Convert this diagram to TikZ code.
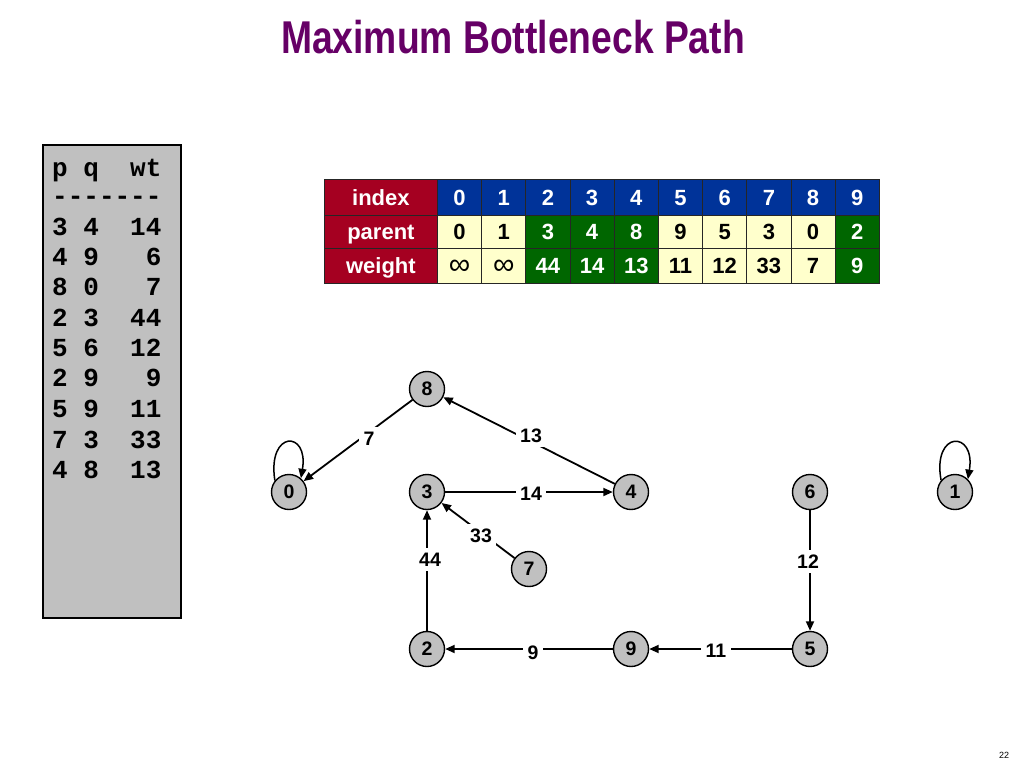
\documentclass[tikz,border=0pt]{standalone}
\usepackage{fontspec}
\setmainfont{Liberation Sans}
\setmonofont{Liberation Mono}
\usetikzlibrary{arrows.meta}
\definecolor{titlepurple}{HTML}{660066}
\definecolor{hdrred}{HTML}{A50021}
\definecolor{hdrblue}{HTML}{003399}
\definecolor{cellgreen}{HTML}{006600}
\definecolor{cellyellow}{HTML}{FFFFCC}
\definecolor{panelgray}{HTML}{C0C0C0}
\newcommand{\infsym}{{\mdseries\fontsize{30}{30}\selectfont\raisebox{-1pt}{∞}}}
\begin{document}
\begin{tikzpicture}[x=1pt,y=-1pt,
  cell/.style={draw=black!85, line width=0.8pt, minimum width=44.2pt, inner sep=0pt,
    anchor=north west, font=\bfseries\fontsize{22}{22}\selectfont,
    text height=15.7pt, text depth=0pt},
  hdr/.style={cell, fill=hdrred, text=white, minimum width=113pt},
  vtx/.style={circle, draw=black, line width=1.4pt, fill=panelgray, minimum size=35pt,
    inner sep=0pt, font=\bfseries\fontsize{19.5}{19.5}\selectfont},
  edge/.style={line width=1.8pt, -{Triangle[length=9.5pt,width=8pt]}},
  elbl/.style={fill=white, inner sep=4.5pt, font=\bfseries\fontsize{19.5}{19.5}\selectfont,
    text height=14pt, text depth=0pt},
  code/.style={anchor=mid west, inner sep=0pt, font=\ttfamily\bfseries\fontsize{26}{26}\selectfont}
]
\useasboundingbox (0,0) rectangle (1024,768);

% title
\node[anchor=base, text=titlepurple, font=\bfseries\fontsize{46}{46}\selectfont, inner sep=0pt]
  (title) at (513,53) {\scalebox{0.81}[1]{Maximum Bottleneck Path}};

% left panel
\draw[line width=1.5pt, fill=panelgray] (43,145) rectangle (181,618);
\node[code] (c0) at (52,174) {p\ q\ \ wt};
\node[code] (c1) at (52,202) {-\kern0pt-\kern0pt-\kern0pt-\kern0pt-\kern0pt-\kern0pt-};
\node[code] (c2) at (52,233) {3\ 4\ \ 14};
\node[code] (c3) at (52,263) {4\ 9\ \ \ 6};
\node[code] (c4) at (52,293) {8\ 0\ \ \ 7};
\node[code] (c5) at (52,324) {2\ 3\ \ 44};
\node[code] (c6) at (52,354) {5\ 6\ \ 12};
\node[code] (c7) at (52,384) {2\ 9\ \ \ 9};
\node[code] (c8) at (52,415) {5\ 9\ \ 11};
\node[code] (c9) at (52,446) {7\ 3\ \ 33};
\node[code] (c10) at (52,476) {4\ 8\ \ 13};

% table
\node[hdr, minimum height=36pt] (hidx) at (324,179) {index};
\node[hdr, minimum height=32.5pt] (hpar) at (324,215) {parent};
\node[hdr, minimum height=35.5pt] (hwt) at (324,247.5) {weight};
\foreach \i/\p/\w/\fc/\tc in {0/0/\infsym/cellyellow/black, 1/1/\infsym/cellyellow/black,
  2/3/44/cellgreen/white, 3/4/14/cellgreen/white, 4/8/13/cellgreen/white,
  5/9/11/cellyellow/black, 6/5/12/cellyellow/black, 7/3/33/cellyellow/black,
  8/0/7/cellyellow/black, 9/2/9/cellgreen/white} {
  \pgfmathsetmacro\xx{437+44.2*\i}
  \node[cell, fill=hdrblue, text=white, minimum height=36pt] (idx\i) at (\xx,179) {\i};
  \node[cell, fill=\fc, text=\tc, minimum height=32.5pt] (par\i) at (\xx,215) {\p};
  \node[cell, fill=\fc, text=\tc, minimum height=35.5pt] (wt\i) at (\xx,247.5) {\w};
}

% graph nodes
\node[vtx] (n8) at (427,389) {8};
\node[vtx] (n0) at (289,492) {0};
\node[vtx] (n3) at (427,492) {3};
\node[vtx] (n4) at (631,492) {4};
\node[vtx] (n6) at (810,492) {6};
\node[vtx] (n1) at (955,492) {1};
\node[vtx] (n7) at (529,569) {7};
\node[vtx] (n2) at (427,649) {2};
\node[vtx] (n9) at (631,649) {9};
\node[vtx] (n5) at (810,649) {5};

% edges
\draw[edge] (n8) -- (n0);
\draw[edge] (n4) -- (n8);
\draw[edge] (n3) -- (n4);
\draw[edge] (n7) -- (n3);
\draw[edge] (n2) -- (n3);
\draw[edge] (n9) -- (n2);
\draw[edge] (n5) -- (n9);
\draw[edge] (n6) -- (n5);
\draw[line width=1.5pt, -{Triangle[length=9.5pt,width=8pt]}] (n0.141) .. controls (267,430) and (309,430) .. (n0.49);
\draw[line width=1.5pt, -{Triangle[length=9.5pt,width=8pt]}] (n1.140) .. controls (932,430) and (976,430) .. (n1.45);

% edge labels
\node[elbl] (l7) at (369,438) {7};
\node[elbl] (l13) at (531,435) {13};
\node[elbl] (l14) at (531,493) {14};
\node[elbl] (l33) at (481,535) {33};
\node[elbl] (l44) at (430,559) {44};
\node[elbl] (l9) at (533,652) {9};
\node[elbl] (l11) at (716,650) {11};
\node[elbl] (l12) at (808,561) {12};

% page number
\node[font=\fontsize{9}{9}\selectfont, inner sep=0pt] (pg) at (1004,755) {22};
\end{tikzpicture}
\end{document}
